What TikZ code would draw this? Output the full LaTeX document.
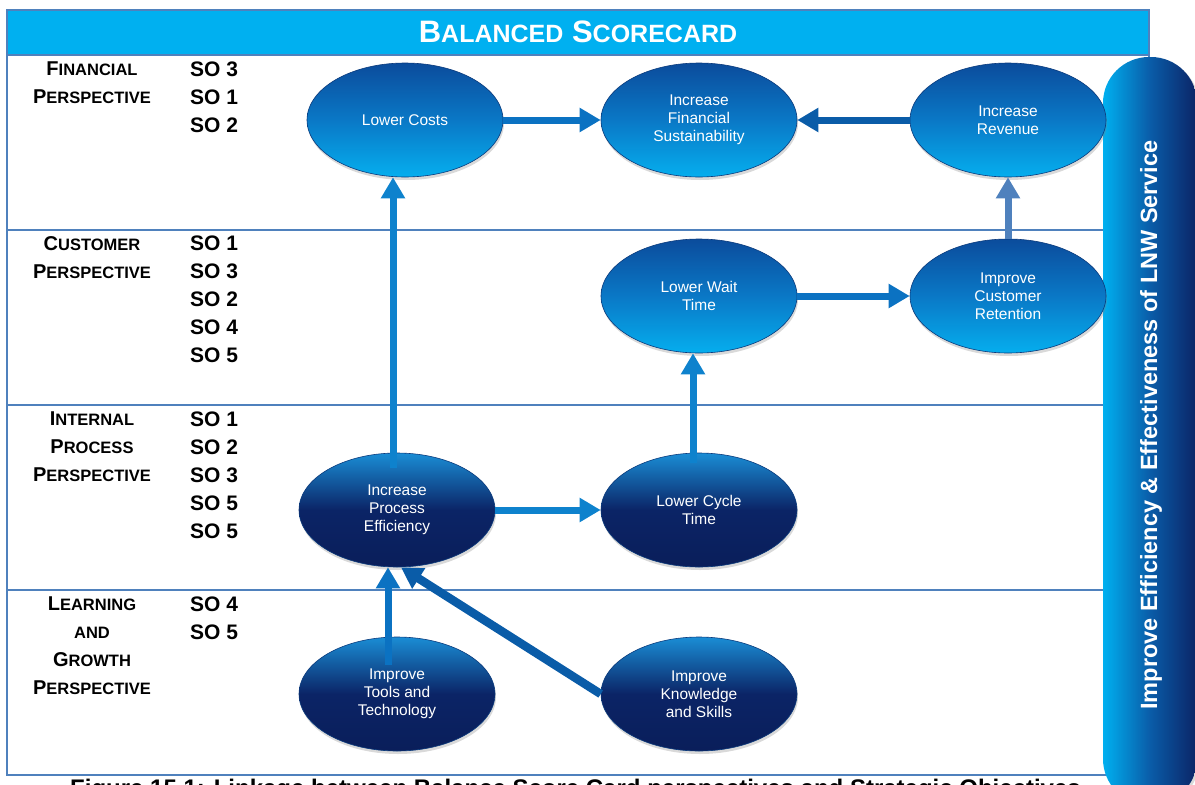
\documentclass[tikz,border=0pt]{standalone}
\usepackage{fontspec}
\setmainfont{Liberation Sans}
\usetikzlibrary{arrows.meta,shapes.geometric,shadows}

\definecolor{frameblue}{HTML}{4F81BD}
\definecolor{headcyan}{HTML}{00B0F0}
\definecolor{rimblue}{HTML}{0A3A7C}
\definecolor{navy}{HTML}{0B2466}
\definecolor{deepnavy}{HTML}{0A1E5A}
\definecolor{topblue}{HTML}{0B4C9C}
\definecolor{midblue}{HTML}{0A78C6}
\definecolor{skyblue}{HTML}{05AEEE}
\definecolor{rimlight}{HTML}{1A8DD5}
\definecolor{linkblue}{HTML}{0B72C2}
\definecolor{linkdark}{HTML}{0A5CA8}
\definecolor{linklight}{HTML}{0E82CD}

% small caps faked from two sizes
\newcommand{\smcap}[2]{#1{\fontsize{16.5}{28}\selectfont #2}}

\tikzset{
  frame/.style={frameblue, line width=1.4pt},
  perspective/.style={anchor=north, inner sep=0pt, align=center, font=\fontsize{20}{28}\selectfont\bfseries},
  solist/.style={anchor=north west, inner sep=0pt, align=left, font=\fontsize{21}{28}\selectfont\bfseries},
  goal/.style={ellipse, minimum width=196pt, minimum height=114pt, inner sep=0pt, align=center,
    text=white, draw=rimblue, line width=0.6pt, font=\fontsize{15.5}{18}\selectfont,
    drop shadow={opacity=0.3, shadow xshift=1pt, shadow yshift=-3pt}},
  lightgoal/.style={goal, top color=topblue, bottom color=skyblue, middle color=midblue},
  darkgoal/.style={goal, top color=rimlight, bottom color=deepnavy, middle color=navy},
  link/.style={line width=7pt, -{Triangle[length=21pt,width=23pt]}},
}

\begin{document}
\begin{tikzpicture}[x=1pt, y=-1pt]
\useasboundingbox (0,0) rectangle (1195,785);

% table with header band and four perspective rows
\fill[headcyan] (7,10) rectangle (1149,55);
\draw[frame] (7,10) rectangle (1149,775);
\foreach \y in {55,230,405,590}
  \draw[frame] (7,\y) -- (1149,\y);
\node (title) [text=white, font=\fontsize{31}{36}\selectfont\bfseries] at (578,32)
  {B{\fontsize{25}{30}\selectfont ALANCED} S{\fontsize{25}{30}\selectfont CORECARD}};

% perspective names and strategic objectives
\node (pfin) [perspective] at (92,62) {\smcap{F}{INANCIAL}\\\smcap{P}{ERSPECTIVE}};
\node (pcus) [perspective] at (92,236) {\smcap{C}{USTOMER}\\\smcap{P}{ERSPECTIVE}};
\node (pint) [perspective] at (92,412) {\smcap{I}{NTERNAL}\\\smcap{P}{ROCESS}\\\smcap{P}{ERSPECTIVE}};
\node (plrn) [perspective] at (92,597) {\smcap{L}{EARNING}\\{\fontsize{16.5}{28}\selectfont AND}\\\smcap{G}{ROWTH}\\\smcap{P}{ERSPECTIVE}};
\node (sofin) [solist] at (190,62) {SO 3\\SO 1\\SO 2};
\node (socus) [solist] at (190,236) {SO 1\\SO 3\\SO 2\\SO 4\\SO 5};
\node (soint) [solist] at (190,412) {SO 1\\SO 2\\SO 3\\SO 5\\SO 5};
\node (solrn) [solist] at (190,597) {SO 4\\SO 5};

\node (caption) [anchor=base west, inner sep=0pt, font=\fontsize{24}{28}\selectfont\bfseries] at (70,796)
  {Figure 15.1: Linkage between Balance Score Card perspectives and Strategic Objectives};

% overall goal bar on the right
\node (lnw) [rotate=90, minimum width=748pt, minimum height=94pt, rounded corners=46pt,
  left color=headcyan, right color=navy, middle color=linkdark,
  drop shadow={opacity=0.3, shadow xshift=2pt, shadow yshift=-2pt}] at (1150,431) {};
\node (lnwtext) [rotate=90, text=white, font=\fontsize{23.5}{28}\selectfont\bfseries] at (1151,425)
  {Improve Efficiency \& Effectiveness of LNW Service};

% objectives
\node (cost) [lightgoal] at (405,120) {Lower Costs};
\node (sust) [lightgoal] at (699,120) {Increase\\Financial\\Sustainability};
\node (revenue) [lightgoal] at (1008,120) {Increase\\Revenue};
\node (wait) [lightgoal] at (699,296) {Lower Wait\\Time};
\node (retain) [lightgoal] at (1008,296) {Improve\\Customer\\Retention};
\node (process) [darkgoal] at (397,510) {Increase\\Process\\Efficiency};
\node (cycle) [darkgoal] at (699,510) {Lower Cycle\\Time};
\node (tools) [darkgoal] at (397,694) {Improve\\Tools and\\Technology};
\node (skills) [darkgoal] at (699,694) {Improve\\Knowledge\\and Skills};

% cause and effect links
\draw[link, linkblue] (cost.east) -- (sust.west);
\draw[link, linkdark] (revenue.west) -- (sust.east);
\draw[link, linklight, shorten <=-15pt] ([xshift=-4pt]process.north) -- ([xshift=-12pt]cost.south);
\draw[link, linkblue] (wait.east) -- (retain.west);
\draw[link, frameblue] (retain.north) -- (revenue.south);
\draw[link, linklight, shorten <=-10pt] ([xshift=-6pt]cycle.north) -- ([xshift=-6pt]wait.south);
\draw[link, linklight] (process.east) -- (cycle.west);
\draw[link, linkblue, shorten <=-28pt] ([xshift=-9pt]tools.north) -- ([xshift=-9pt]process.south);
\draw[link, linkdark, line width=8.5pt] (skills.west) -- ([xshift=4pt]process.south);
\end{tikzpicture}
\end{document}
